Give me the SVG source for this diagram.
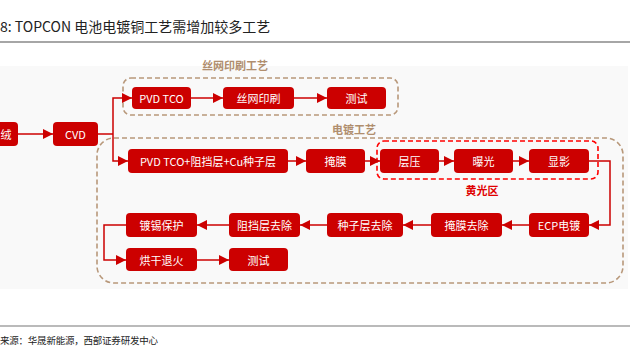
<svg xmlns="http://www.w3.org/2000/svg" width="630" height="349" viewBox="0 0 630 349">
<style>
.box{fill:#cc0000;}
.bt{fill:#ffffff;font-family:"Noto Sans CJK SC","Liberation Sans",sans-serif;font-size:11px;text-anchor:middle;dominant-baseline:central;}
.con{fill:none;stroke:#cc0000;stroke-width:1.5;}
.tan{fill:none;stroke:#b8987a;stroke-width:1.6;stroke-dasharray:5,3;}
.reddash{fill:none;stroke:#ff0000;stroke-width:1.6;stroke-dasharray:5,3;}
.lbl{font-family:"Noto Sans CJK SC","Liberation Sans",sans-serif;font-size:11px;text-anchor:middle;font-weight:bold;}
</style>
<defs>
<marker id="ah" markerUnits="userSpaceOnUse" markerWidth="11" markerHeight="10" refX="10" refY="5" orient="auto">
<path d="M0,0 L10,5 L0,10 z" fill="#cc0000"/>
</marker>
</defs>
<rect x="0" y="0" width="630" height="349" fill="#ffffff"/>
<text x="0" y="32" font-family="'Noto Sans CJK SC','Liberation Mono',monospace" font-size="14" fill="#222">8: TOPCON 电池电镀铜工艺需增加较多工艺</text>
<line x1="0" y1="42" x2="630" y2="42" stroke="#888" stroke-width="1.5"/>
<rect x="0" y="66" width="628" height="223" fill="#f9f9f9"/>
<line x1="0" y1="326" x2="630" y2="326" stroke="#777" stroke-width="1.2"/>
<text x="0" y="344" font-family="'Noto Sans CJK SC',sans-serif" font-size="9.5" fill="#222" textLength="158">来源：华晟新能源，西部证券研发中心</text>

<g id="groups">
<rect class="tan" x="123" y="78" width="275" height="37" rx="8"/>
<text class="lbl" x="235" y="70" fill="#b08e6e">丝网印刷工艺</text>
<rect class="tan" x="97" y="138" width="526" height="145" rx="17"/>
<text class="lbl" x="354" y="134" fill="#b08e6e">电镀工艺</text>
<rect class="reddash" x="377" y="141" width="221" height="38" rx="7"/>
<text class="lbl" x="482" y="195" fill="#e00000">黄光区</text>
</g>

<g id="connectors">
<path class="con" d="M18,134 H53" marker-end="url(#ah)"/>
<path class="con" d="M98,134 H113"/>
<path class="con" d="M113,134 V98 H132" marker-end="url(#ah)"/>
<path class="con" d="M113,134 V161 H128" marker-end="url(#ah)"/>
<path class="con" d="M191,98 H223" marker-end="url(#ah)"/>
<path class="con" d="M294,98 H327" marker-end="url(#ah)"/>
<path class="con" d="M288,161 H306" marker-end="url(#ah)"/>
<path class="con" d="M365,161 H380" marker-end="url(#ah)"/>
<path class="con" d="M439,161 H454" marker-end="url(#ah)"/>
<path class="con" d="M513,161 H529" marker-end="url(#ah)"/>
<path class="con" d="M589,161 H610 V225 H589" marker-end="url(#ah)"/>
<path class="con" d="M529,225 H502" marker-end="url(#ah)"/>
<path class="con" d="M431,225 H403" marker-end="url(#ah)"/>
<path class="con" d="M327,225 H300" marker-end="url(#ah)"/>
<path class="con" d="M229,225 H197" marker-end="url(#ah)"/>
<path class="con" d="M126,225 H104 V260 H126" marker-end="url(#ah)"/>
<path class="con" d="M197,260 H229" marker-end="url(#ah)"/>
</g>

<g id="n-rong"><rect class="box" x="-10" y="122" width="28" height="24" rx="4"/><text class="bt" x="6" y="134">绒</text></g>
<g id="n-cvd"><rect class="box" x="53" y="122" width="45" height="24" rx="4"/><text class="bt" x="75.5" y="134">CVD</text></g>
<g id="n-pvdtco"><rect class="box" x="132" y="87" width="59" height="22" rx="4"/><text class="bt" x="161.5" y="98">PVD TCO</text></g>
<g id="n-print"><rect class="box" x="223" y="87" width="71" height="22" rx="4"/><text class="bt" x="258.5" y="98">丝网印刷</text></g>
<g id="n-test1"><rect class="box" x="327" y="87" width="59" height="22" rx="4"/><text class="bt" x="356.5" y="98">测试</text></g>
<g id="n-pvdcu"><rect class="box" x="128" y="149" width="160" height="24" rx="4"/><text class="bt" x="208" y="161">PVD TCO+阻挡层+Cu种子层</text></g>
<g id="n-mask"><rect class="box" x="306" y="149" width="59" height="24" rx="4"/><text class="bt" x="335.5" y="161">掩膜</text></g>
<g id="n-lam"><rect class="box" x="380" y="149" width="59" height="24" rx="4"/><text class="bt" x="409.5" y="161">层压</text></g>
<g id="n-exp"><rect class="box" x="454" y="149" width="59" height="24" rx="4"/><text class="bt" x="483.5" y="161">曝光</text></g>
<g id="n-dev"><rect class="box" x="529" y="149" width="60" height="24" rx="4"/><text class="bt" x="559" y="161">显影</text></g>
<g id="n-ecp"><rect class="box" x="529" y="213" width="60" height="24" rx="4"/><text class="bt" x="559" y="225">ECP电镀</text></g>
<g id="n-maskrm"><rect class="box" x="431" y="213" width="71" height="24" rx="4"/><text class="bt" x="466.5" y="225">掩膜去除</text></g>
<g id="n-seedrm"><rect class="box" x="327" y="213" width="76" height="24" rx="4"/><text class="bt" x="365" y="225">种子层去除</text></g>
<g id="n-barrm"><rect class="box" x="229" y="213" width="71" height="24" rx="4"/><text class="bt" x="264.5" y="225">阻挡层去除</text></g>
<g id="n-tin"><rect class="box" x="126" y="213" width="71" height="24" rx="4"/><text class="bt" x="161.5" y="225">镀锡保护</text></g>
<g id="n-anneal"><rect class="box" x="126" y="248" width="71" height="23" rx="4"/><text class="bt" x="161.5" y="259.5">烘干退火</text></g>
<g id="n-test2"><rect class="box" x="229" y="248" width="59" height="23" rx="4"/><text class="bt" x="258.5" y="259.5">测试</text></g>
</svg>
